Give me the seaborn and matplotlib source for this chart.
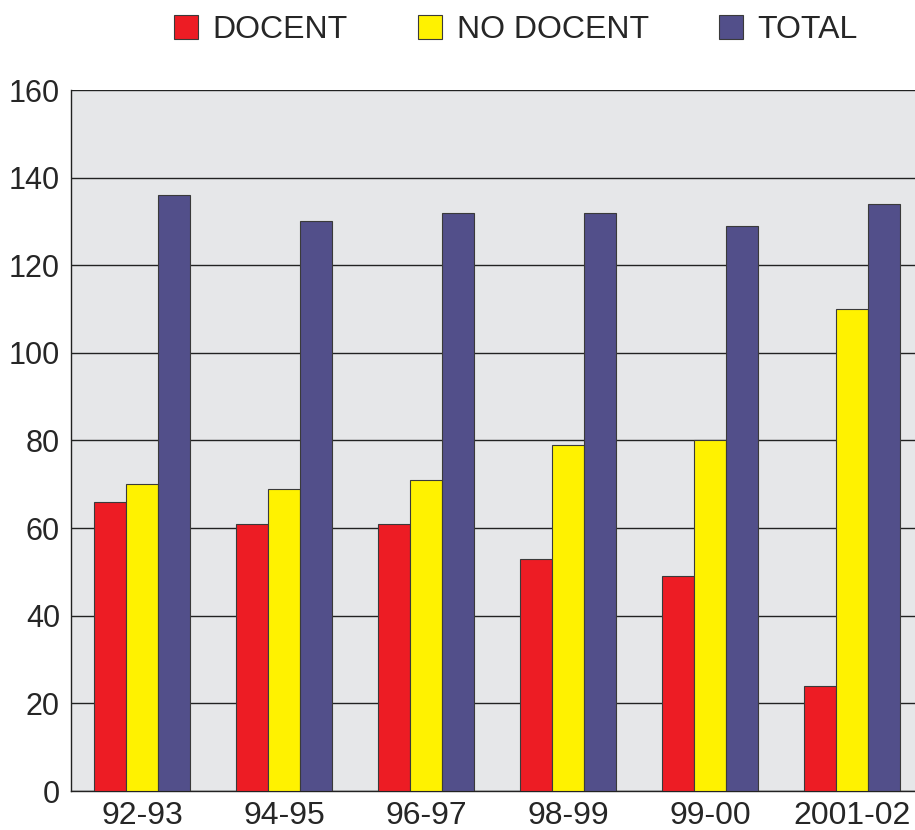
import pandas as pd
import seaborn as sns
import matplotlib.pyplot as plt
import numpy as np

cursos = ["92-93", "94-95", "96-97", "98-99", "99-00", "2001-02"]
docent = [66, 61, 61, 53, 49, 24]
no_docent = [70, 69, 71, 79, 80, 110]
total = [136, 130, 132, 132, 129, 134]
grupos = ["DOCENT", "NO DOCENT", "TOTAL"]
colors = ["#ED1C24", "#FFF200", "#524F8A"]

df = pd.DataFrame({
    "curs": cursos * 3,
    "grup": [g for g in grupos for _ in cursos],
    "valor": docent + no_docent + total,
})

sns.set_style("white")
plt.rcParams["font.family"] = ["Liberation Sans", "DejaVu Sans"]

fig = plt.figure(figsize=(9.15, 8.3), dpi=100)
ax = fig.add_axes([71 / 915, 39 / 830, 852 / 915, 701 / 830])
ax.set_facecolor("#E6E7E9")

sns.barplot(data=df, x="curs", y="valor", hue="grup", palette=colors,
            saturation=1, width=0.68, edgecolor="#3a3a3a", linewidth=0.8,
            ax=ax, errorbar=None, zorder=3)

ax.set_ylim(0, 160)
ax.set_xlim(-0.5, 5.5)
ax.set_yticks(np.arange(0, 161, 20))
ax.yaxis.grid(True, color="#222222", linewidth=1.0, zorder=0)
ax.set_axisbelow(True)
ax.set_xlabel("")
ax.set_ylabel("")
for s in ["top", "right"]:
    ax.spines[s].set_visible(False)
for s in ["left", "bottom"]:
    ax.spines[s].set_color("#222222")
    ax.spines[s].set_linewidth(1.0)

ax.tick_params(axis="y", length=6, width=1, color="#222222", labelsize=22, pad=2)
ax.tick_params(axis="x", which="major", length=0, labelsize=23, pad=7)
ax.set_xticks(np.arange(-0.5, 6, 1), minor=True)
ax.tick_params(axis="x", which="minor", length=5, width=1, color="#222222")

handles, labels = ax.get_legend_handles_labels()
ax.get_legend().remove()
fig.legend(handles, labels, loc="center", bbox_to_anchor=(516 / 915, 1 - 30 / 830),
           ncol=3, frameon=False, fontsize=23, handlelength=0.75, handleheight=0.75,
           columnspacing=2.2, handletextpad=0.45)

fig.savefig("out.png", dpi=100)
